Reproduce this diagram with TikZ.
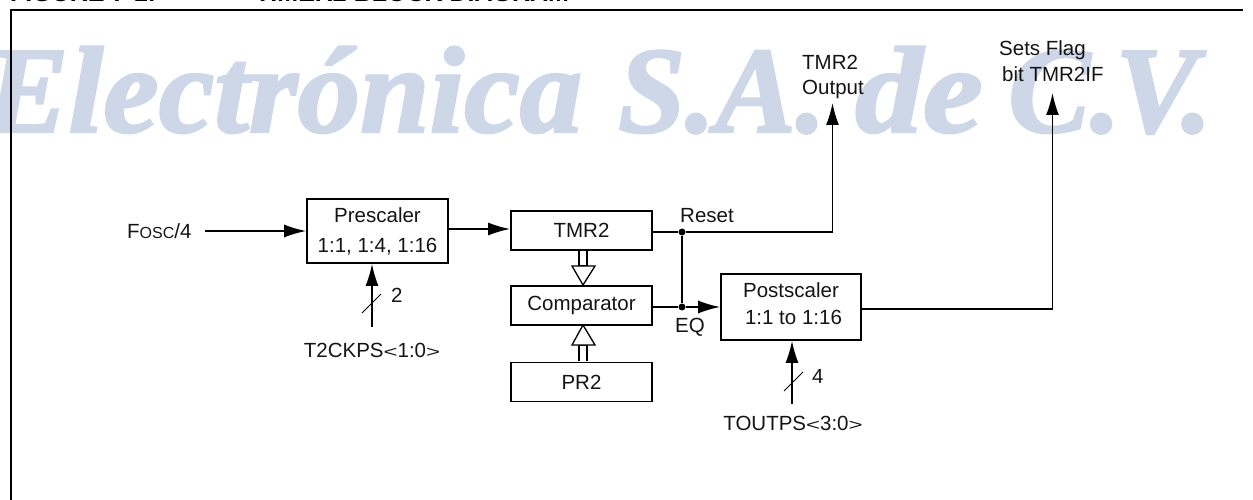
\documentclass[tikz,border=0pt]{standalone}
\usepackage{fontspec}
\setmainfont{Liberation Sans}
\newfontfamily\wmfont{Liberation Serif}[BoldItalicFeatures={FakeBold=2}]
\usetikzlibrary{arrows.meta}
\definecolor{wm}{RGB}{205,215,232}
\definecolor{ink}{RGB}{20,20,20}
\newcommand{\smc}[1]{{\fontsize{16}{18}\selectfont #1}}
\newcommand{\wideang}[1]{\scalebox{1.5}[1]{\smc{#1}}}
\tikzset{
  x=1pt,y=-1pt,
  blockbox/.style={draw=black,line width=1.7pt,minimum width=#1,inner sep=0pt,align=center,font=\fontsize{20.5}{28}\selectfont,text=ink},
  wire/.style={draw=black,line width=1.6pt},
  arr/.style={wire,-{Latex[length=22pt,width=13pt]}},
  txt/.style={inner sep=0pt,font=\fontsize{20.5}{25}\selectfont,text=ink,align=left},
  boxtext/.style={inner sep=0pt,font=\fontsize{20.5}{27}\selectfont,text=ink,align=center,anchor=base},
  thin slash/.style={draw=black,line width=1pt},
  junction/.style={circle,fill=black,inner sep=0pt,minimum size=7pt},
  busarr/.style={draw=black,line width=1.3pt,fill=white},
  wmark/.style={anchor=base west,inner sep=0pt,font=\fontsize{123}{123}\selectfont\wmfont\bfseries\itshape,text=wm},
  heading/.style={anchor=base west,inner sep=0pt,font=\fontsize{25}{28}\selectfont\bfseries},
}
\begin{document}
\begin{tikzpicture}
\useasboundingbox (0,0) rectangle (1253,500);
\node[wmark] (wma) at (-15,132) {\scalebox{1.016}[1]{Electrónica}};
\node[wmark] (wmb) at (618,132) {\scalebox{0.98}[1]{S.A.}};
\node[wmark] (wmc) at (855,132) {\scalebox{1.1}[1]{de}};
\node[wmark] (wmd) at (1008,132) {C.};
\node[wmark] (wme) at (1115,132) {V.};
\draw[line width=2pt] (11,500) -- (11,10) -- (1243,10);
\node[heading] (figlabel) at (10,2) {FIGURE 7-1:};
\node[heading] (figtitle) at (255,2) {TIMER2 BLOCK DIAGRAM};
% blocks
\node[blockbox=141pt,minimum height=64pt] (pre) at (377.5,231) {Prescaler\\[2pt]1:1, 1:4, 1:16};
\node[blockbox=141pt,minimum height=39pt] (tmr) at (581.5,230.5) {TMR2};
\node[blockbox=141pt,minimum height=39pt] (cmp) at (581.5,305.5) {Comparator};
\node[blockbox=141pt,minimum height=39pt] (pr) at (581.5,382) {PR2};
\node[blockbox=140pt,minimum height=66pt] (post) at (791,307) {};
\node[boxtext] (posttext) at (791,324) {Postscaler\\\hspace*{5pt}1:1 to 1:16};
% labels
\node[txt,anchor=base west] (fosc) at (127,238) {F\smc{OSC}/4};
\node[txt,anchor=base] (t2) at (372,357) {T2CKPS\wideang{<}1:0\wideang{>}};
\node[txt,anchor=base] (tout) at (793,430) {TOUTPS\wideang{<}3:0\wideang{>}};
\node[txt,anchor=base west] (two) at (391,302) {2};
\node[txt,anchor=base west] (four) at (812,383) {4};
\node[txt,anchor=base west] (reset) at (680,222) {Reset};
\node[txt,anchor=base west] (eq) at (675,332) {EQ};
\node[txt,anchor=base west] (tmrout) at (802,95) {TMR2\\Output};
\node[txt,anchor=base west] (flag) at (999,82) {Sets Flag\\[1pt]\hspace*{3pt}bit TMR2IF};
% coordinates
\coordinate (foscend) at (205,231);
\coordinate (t2end) at (372,327);
\coordinate (toutend) at (792,404);
\node[junction] (j1) at (682,232) {};
\node[junction] (j2) at (682,307) {};
% wires
\draw[arr] (foscend) -- (pre.west |- foscend);
\draw[arr] (pre.east |- 0,229) -- (tmr.west |- 0,229);
\draw[wire] (tmr.east |- j1) -- (j1);
\draw[arr] (j1) -- (832.5,232) -- (832.5,103);
\draw[wire] (j1) -- (j2);
\draw[wire] (cmp.east |- j2) -- (j2);
\draw[arr] (j2) -- (post.west);
\draw[arr] (t2end) -- (pre.south -| t2end);
\draw[arr] (toutend) -- (post.south -| toutend);
\draw[arr] (post.east |- 0,309) -- (1052.5,309) -- (1052.5,93);
\draw[thin slash] (362,313) -- (381,294);
\draw[thin slash] (784,391) -- (803,372);
% bus arrows
\draw[busarr] (579,251) -- (579,266) -- (587,266) -- (587,251);
\draw[busarr] (572,266) -- (595,266) -- (583,285) -- cycle;
\draw[busarr] (579,361) -- (579,345) -- (587,345) -- (587,361);
\draw[busarr] (572,345) -- (595,345) -- (583,325) -- cycle;
\end{tikzpicture}
\end{document}
